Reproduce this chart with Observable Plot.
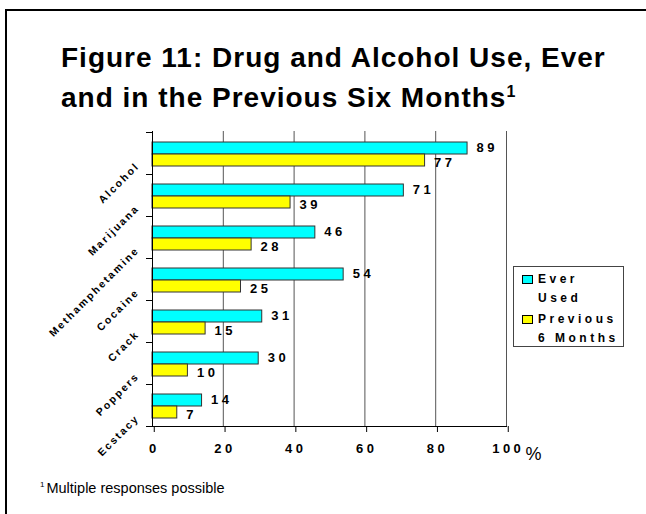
<!DOCTYPE html>
<html>
<head>
<meta charset="utf-8">
<script src="https://cdn.jsdelivr.net/npm/d3@7"></script>
<script src="https://cdn.jsdelivr.net/npm/@observablehq/plot@0.6"></script>
<style>
html, body { margin: 0; padding: 0; background: #fff; }
#page { position: relative; width: 646px; height: 514px; overflow: hidden; font-family: "Liberation Sans", Arial, sans-serif; color: #000; }
#bt { position: absolute; left: 5px; top: 9px; width: 641px; height: 2px; background: #000; }
#bl { position: absolute; left: 5px; top: 9px; width: 2px; height: 505px; background: #000; }
#title { position: absolute; left: 61px; top: 38px; font-weight: bold; font-size: 28px; line-height: 40px; letter-spacing: 1px; white-space: nowrap; }
#title .sup { font-size: 16px; position: relative; top: -10px; letter-spacing: 0; }
#chart { position: absolute; left: 0; top: 110px; }
#legend { position: absolute; left: 513px; top: 266px; width: 111px; height: 81px; box-sizing: border-box; border: 1px solid #444; background: #fff; }
#legend .item { position: absolute; left: 0; }
#legend .sw { position: absolute; left: 8px; width: 11px; height: 9px; box-sizing: border-box; border: 1px solid #000; }
#legend .lab { position: absolute; left: 24px; font-weight: bold; font-size: 12px; letter-spacing: 3.5px; line-height: 19px; white-space: nowrap; }
#foot { position: absolute; left: 40px; top: 480px; font-size: 14.5px; white-space: nowrap; }
#foot .sup { font-size: 8px; position: relative; top: -6px; margin-right: 2px; }
</style>
</head>
<body>
<div id="page">
  <div id="bt"></div>
  <div id="bl"></div>
  <div id="title">Figure 11: Drug and Alcohol Use, Ever<br>and in the Previous Six Months<span class="sup">1</span></div>
  <div id="chart"></div>
  <div id="legend"></div>
  <div id="foot"><span class="sup">1</span>Multiple responses possible</div>
</div>
<script>
const categories = ["Alcohol", "Marijuana", "Methamphetamine", "Cocaine", "Crack", "Poppers", "Ecstacy"];
const everUsed = [89, 71, 46, 54, 31, 30, 14];
const previous6 = [77, 39, 28, 25, 15, 10, 7];
const seriesNames = ["Ever Used", "Previous 6 Months"];
const seriesColors = ["#00FFFF", "#FFFF00"];
const xTicks = [0, 20, 40, 60, 80, 100];
const unitLabel = "%";

const rows = categories.map((c, i) => ({ category: c, ever: everUsed[i], prev: previous6[i] }));

const chart = Plot.plot({
  width: 646,
  height: 361,
  marginLeft: 152,
  marginRight: 140,
  marginTop: 21,
  marginBottom: 45,
  style: { fontFamily: "'Liberation Sans', Arial, sans-serif", color: "#000", background: "transparent", overflow: "visible", letterSpacing: "3.5px" },
  x: { domain: [0, 100], label: null },
  y: { domain: categories, padding: 0, label: null },
  marks: [
    Plot.ruleX(xTicks.slice(1), { stroke: "#555", strokeWidth: 1 }),
    Plot.barX(rows, { x: "ever", y: "category", fill: seriesColors[0], stroke: "#333", strokeWidth: 1, insetTop: 10, insetBottom: 20 }),
    Plot.barX(rows, { x: "prev", y: "category", fill: seriesColors[1], stroke: "#333", strokeWidth: 1, insetTop: 22, insetBottom: 8 }),
    Plot.ruleX([0], { stroke: "#000", strokeWidth: 1 }),
    Plot.frame({ anchor: "bottom", insetLeft: -6, stroke: "#000" }),
    Plot.axisX({ ticks: xTicks, tickSize: 6, tickPadding: 11, fontWeight: "bold", fontSize: 13, dx: 1.75, label: null }),
    Plot.axisY({ tickSize: 6, tickFormat: () => "", dy: -21, label: null }),
    Plot.text(categories, { y: d => d, text: d => d, frameAnchor: "left", textAnchor: "end", rotate: -45, dx: -15, dy: 11, fontWeight: "bold", fontSize: 10.5 }),
    Plot.text(rows, { x: "ever", y: "category", text: d => String(d.ever), textAnchor: "start", dx: 9, dy: -6, fontWeight: "bold", fontSize: 13 }),
    Plot.text(rows, { x: "prev", y: "category", text: d => String(d.prev), textAnchor: "start", dx: 9, dy: 9.5, fontWeight: "bold", fontSize: 13 }),
    Plot.text([unitLabel], { text: d => d, frameAnchor: "bottom-right", textAnchor: "start", dx: 19, dy: 33, fontSize: 18, fontWeight: "normal" })
  ]
});

// letter spacing per text group
const textGroups = chart.querySelectorAll('g[aria-label="text"]');
if (textGroups[0]) textGroups[0].setAttribute("letter-spacing", "2px");
if (textGroups[3]) textGroups[3].setAttribute("letter-spacing", "0");
document.getElementById("chart").appendChild(chart);

// legend
const legend = document.getElementById("legend");
const tops = [3, 43];
seriesNames.forEach((name, i) => {
  const k = name.indexOf(" ");
  const item = document.createElement("div");
  item.className = "item";
  item.style.top = tops[i] + "px";
  const sw = document.createElement("div");
  sw.className = "sw";
  sw.style.background = seriesColors[i];
  sw.style.top = "5px";
  const lab = document.createElement("div");
  lab.className = "lab";
  lab.innerHTML = name.slice(0, k) + "<br>" + name.slice(k + 1);
  item.appendChild(sw);
  item.appendChild(lab);
  legend.appendChild(item);
});
</script>
</body>
</html>
